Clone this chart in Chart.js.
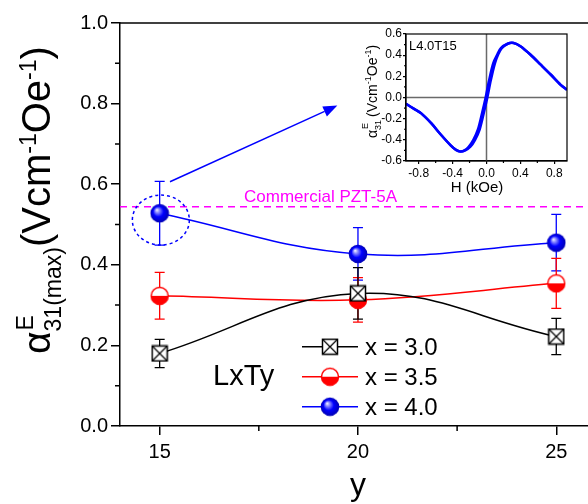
<!DOCTYPE html>
<html><head><meta charset="utf-8">
<script src="https://cdn.jsdelivr.net/npm/chart.js@4.4.1/dist/chart.umd.min.js"></script>
<style>
html,body{margin:0;padding:0;background:#fff;}
#wrap{position:relative;width:588px;height:504px;overflow:hidden;background:#fff;}
#main{position:absolute;left:0;top:0;}
#inset{position:absolute;left:340px;top:20px;}
</style></head><body>
<div id="wrap"><canvas id="main" width="588" height="504"></canvas><canvas id="inset" width="248" height="185"></canvas></div>
<script>
// ---------- data ----------
const yCategories = [15, 20, 25];
const xTickValues = [15, 20, 25];
const yTickValues = [0, 0.2, 0.4, 0.6, 0.8, 1.0];
const alphaX30 = [0.180, 0.329, 0.222];
const errX30   = [0.035, 0.064, 0.045];
const alphaX35 = [0.323, 0.313, 0.354];
const errX35   = [0.058, 0.055, 0.062];
const alphaX40 = [0.528, 0.427, 0.455];
const errX40   = [0.079, 0.065, 0.070];
const seriesLabels = ['x = 3.0', 'x = 3.5', 'x = 4.0'];
const pztValue = 0.544;
const pztLabel = 'Commercial PZT-5A';

// inset (L4.0T15) loop
const insetHUp   = [-0.95,-0.85,-0.77,-0.65,-0.54,-0.42,-0.36,-0.31,-0.25,-0.19,-0.135,-0.08,-0.03,0.01,0.05,0.10,0.14,0.18,0.25,0.32,0.40,0.52,0.64,0.76,0.875,0.95];
const insetAUp   = [-0.06,-0.11,-0.15,-0.245,-0.35,-0.455,-0.495,-0.51,-0.50,-0.465,-0.40,-0.30,-0.14,0.00,0.16,0.325,0.41,0.467,0.508,0.515,0.485,0.404,0.31,0.215,0.12,0.073];
const insetHDown = [0.95,0.875,0.76,0.64,0.52,0.40,0.32,0.25,0.17,0.13,0.08,0.03,-0.01,-0.05,-0.10,-0.155,-0.21,-0.26,-0.31,-0.36,-0.42,-0.54,-0.65,-0.77,-0.85,-0.95];
const insetADown = [0.073,0.12,0.215,0.31,0.404,0.485,0.515,0.508,0.467,0.41,0.325,0.16,0.00,-0.14,-0.30,-0.40,-0.465,-0.50,-0.51,-0.495,-0.455,-0.35,-0.245,-0.15,-0.11,-0.06];
const insetXTicks = [-0.8, -0.4, 0, 0.4, 0.8];
const insetYTicks = [-0.6, -0.4, -0.2, 0, 0.2, 0.4, 0.6];
const insetLabel = 'L4.0T15';

const FF = "'Liberation Sans', Arial, sans-serif";
Chart.defaults.font.family = FF;
Chart.defaults.color = '#000';

// ---------- marker images ----------
function boxX(){ const c=document.createElement('canvas'); c.width=18;c.height=18; const g=c.getContext('2d');
  g.fillStyle='#fff'; g.fillRect(1.5,1.5,15,15); g.strokeStyle='#000'; g.lineWidth=1.5; g.strokeRect(1.5,1.5,15,15);
  g.lineWidth=1.2; g.beginPath(); g.moveTo(2,2); g.lineTo(16,16); g.moveTo(16,2); g.lineTo(2,16); g.stroke(); return c; }
function halfRed(){ const c=document.createElement('canvas'); c.width=20;c.height=20; const g=c.getContext('2d');
  g.fillStyle='#fff'; g.beginPath(); g.arc(10,10,8.5,0,Math.PI*2); g.fill();
  g.fillStyle='#ff0000'; g.beginPath(); g.arc(10,10,8.5,0,Math.PI); g.closePath(); g.fill();
  g.strokeStyle='#ff0000'; g.lineWidth=1.5; g.beginPath(); g.arc(10,10,8.5,0,Math.PI*2); g.stroke(); return c; }
function ball(){ const c=document.createElement('canvas'); c.width=20;c.height=20; const g=c.getContext('2d');
  const gr=g.createRadialGradient(7,6.5,0,10,10,9.5); gr.addColorStop(0,'#ffffff'); gr.addColorStop(0.22,'#9090ff'); gr.addColorStop(0.55,'#0000ff'); gr.addColorStop(1,'#0000b0');
  g.fillStyle=gr; g.beginPath(); g.arc(10,10,9.3,0,Math.PI*2); g.fill(); return c; }
const imgBox = boxX(), imgRed = halfRed(), imgBall = ball();

function pts(xs, ys){ return xs.map((v,i)=>({x:v, y:ys[i]})); }

function drawRich(ctx, x0, y0, parts){
  ctx.save(); ctx.translate(x0, y0); ctx.rotate(-Math.PI/2); ctx.textBaseline='alphabetic'; ctx.textAlign='left';
  let u = 0, pending = 0;
  parts.forEach(p=>{
    ctx.font = p.size + 'px ' + FF;
    const w = ctx.measureText(p.t).width;
    ctx.fillText(p.t, u + (p.dx||0), p.dv||0);
    if (p.noAdvance) { pending = w + (p.dx||0); }
    else { u += Math.max(w, pending) + (p.gap||0); pending = 0; }
  });
  ctx.restore();
}

const errorSets = [
  {vals: alphaX40, err: errX40, color: '#0000ff'},
  {vals: alphaX35, err: errX35, color: '#ff0000'},
  {vals: alphaX30, err: errX30, color: '#000000'}
];

const mainDecor = {
  id: 'mainDecor',
  beforeDatasetsDraw(chart){
    const {ctx, scales:{x, y}} = chart;
    ctx.save(); ctx.lineWidth = 1.3;
    errorSets.forEach(es=>{
      ctx.strokeStyle = es.color;
      es.vals.forEach((v,i)=>{
        const px = x.getPixelForValue(yCategories[i]);
        const t = y.getPixelForValue(v + es.err[i]), b = y.getPixelForValue(v - es.err[i]);
        ctx.beginPath(); ctx.moveTo(px,t); ctx.lineTo(px,b);
        ctx.moveTo(px-5,t); ctx.lineTo(px+5,t); ctx.moveTo(px-5,b); ctx.lineTo(px+5,b); ctx.stroke();
      });
    });
    ctx.restore();
  },
  afterDraw(chart){
    const {ctx, chartArea:a, scales:{x, y}} = chart;
    ctx.save();
    // top frame line
    ctx.strokeStyle='#000'; ctx.lineWidth=1.5;
    ctx.beginPath(); ctx.moveTo(a.left, a.top); ctx.lineTo(588, a.top); ctx.stroke();
    // minor ticks
    ctx.beginPath();
    [0.1,0.3,0.5,0.7,0.9].forEach(v=>{ const py=y.getPixelForValue(v); ctx.moveTo(a.left, py); ctx.lineTo(a.left-5, py); });
    [17.5,22.5].forEach(v=>{ const px=x.getPixelForValue(v); ctx.moveTo(px, a.bottom); ctx.lineTo(px, a.bottom+5); });
    ctx.stroke();
    // PZT label
    ctx.fillStyle='#ff00ff'; ctx.font='17px '+FF; ctx.textBaseline='alphabetic'; ctx.textAlign='left';
    ctx.fillText(pztLabel, 244, 201.5);
    // dotted ellipse around x=4.0, y=15 point
    const cx = x.getPixelForValue(15.03), cy = y.getPixelForValue(0.511);
    ctx.strokeStyle='#0000ff'; ctx.lineWidth=1.5; ctx.setLineDash([3,3]);
    ctx.beginPath(); ctx.ellipse(cx, cy, 28.5, 25, 0, 0, Math.PI*2); ctx.stroke(); ctx.setLineDash([]);
    // arrow to inset
    const x1=x.getPixelForValue(15.26), y1=y.getPixelForValue(0.606), x2=x.getPixelForValue(19.48), y2=y.getPixelForValue(0.795);
    const ang=Math.atan2(y2-y1,x2-x1), L=14, H=5.5;
    const bx=x2-L*Math.cos(ang), by=y2-L*Math.sin(ang);
    ctx.lineWidth=1.5; ctx.beginPath(); ctx.moveTo(x1,y1); ctx.lineTo(bx,by); ctx.stroke();
    ctx.fillStyle='#0000ff'; ctx.beginPath(); ctx.moveTo(x2,y2);
    ctx.lineTo(bx - H*Math.sin(ang), by + H*Math.cos(ang)); ctx.lineTo(bx + H*Math.sin(ang), by - H*Math.cos(ang)); ctx.closePath(); ctx.fill();
    // legend
    const rows = [{img:imgBox,c:'#000',y:346.7},{img:imgRed,c:'#ff0000',y:376.7},{img:imgBall,c:'#0000ff',y:406.7}];
    rows.forEach((r,i)=>{
      ctx.strokeStyle=r.c; ctx.lineWidth=1.5; ctx.beginPath(); ctx.moveTo(302,r.y); ctx.lineTo(358,r.y); ctx.stroke();
      ctx.drawImage(r.img, 330 - r.img.width/2, r.y - r.img.height/2);
      ctx.fillStyle='#000'; ctx.font='24px '+FF; ctx.fillText(seriesLabels[i], 365, r.y+8.5);
    });
    ctx.font='29px '+FF; ctx.fillText('LxTy', 213, 385);
    // x title
    ctx.font='32px '+FF; ctx.textAlign='center'; ctx.fillText('y', 358, 495);
    ctx.restore();
    // y title
    ctx.fillStyle='#000';
    drawRich(ctx, 50, 354, [
      {t:'α', size:39},
      {t:'E', size:23, dv:-17, noAdvance:true, dx:1},
      {t:'31(max)', size:23, dv:11},
      {t:'(Vcm', size:40},
      {t:'-1', size:23, dv:-14},
      {t:'Oe', size:40},
      {t:'-1', size:23, dv:-14},
      {t:')', size:40}
    ]);
  }
};

new Chart(document.getElementById('main'), {
  type: 'line',
  data: { datasets: [
    {label: seriesLabels[0], data: pts(yCategories, alphaX30), borderColor:'#000', borderWidth:1.5, tension:0.4, pointStyle: imgBox, pointRadius:8},
    {label: seriesLabels[1], data: pts(yCategories, alphaX35), borderColor:'#ff0000', borderWidth:1.5, tension:0.4, pointStyle: imgRed, pointRadius:9},
    {label: seriesLabels[2], data: pts(yCategories, alphaX40), borderColor:'#0000ff', borderWidth:1.5, tension:0.4, pointStyle: imgBall, pointRadius:9},
    {label: pztLabel, data: [{x:14, y:pztValue},{x:25.8, y:pztValue}], borderColor:'#ff00ff', borderWidth:1.5, borderDash:[7,5], pointRadius:0, tension:0}
  ]},
  options: {
    responsive:false, animation:false, events:[], devicePixelRatio:1,
    layout:{autoPadding:false, padding:{top:23, right:0, left:0, bottom:0}},
    plugins:{legend:{display:false}, tooltip:{enabled:false}},
    scales:{
      x:{type:'linear', min:14, max:25.8,
        afterBuildTicks:s=>{ s.ticks = xTickValues.map(v=>({value:v})); },
        afterFit:s=>{ s.height = 78; },
        grid:{display:true, drawOnChartArea:false, drawTicks:true, tickLength:9, color:'#000', lineWidth:1.5},
        border:{display:true, color:'#000', width:1.5},
        ticks:{font:{size:20}, color:'#000', padding:5, maxRotation:0, callback:v=>String(v)}
      },
      y:{type:'linear', min:0, max:1.0,
        afterBuildTicks:s=>{ s.ticks = yTickValues.map(v=>({value:v})); },
        afterFit:s=>{ s.width = 120; },
        grid:{display:true, drawOnChartArea:false, drawTicks:true, tickLength:9, color:'#000', lineWidth:1.5},
        border:{display:true, color:'#000', width:1.5},
        ticks:{font:{size:20}, color:'#000', padding:3, callback:v=>Number(v).toFixed(1)}
      }
    }
  },
  plugins:[mainDecor]
});

// ---------- inset ----------
const insetDecor = {
  id:'insetDecor',
  beforeDatasetsDraw(chart){
    const {ctx, chartArea:a, scales:{x,y}} = chart;
    ctx.save(); ctx.strokeStyle='#6a6a6a'; ctx.lineWidth=1.5;
    const zx=x.getPixelForValue(0), zy=y.getPixelForValue(0);
    ctx.beginPath(); ctx.moveTo(zx,a.top); ctx.lineTo(zx,a.bottom); ctx.moveTo(a.left,zy); ctx.lineTo(a.right,zy); ctx.stroke();
    ctx.restore();
  },
  afterDraw(chart){
    const {ctx, chartArea:a, scales:{x,y}} = chart;
    ctx.save(); ctx.strokeStyle='#000'; ctx.lineWidth=1.2;
    ctx.strokeRect(a.left, a.top, a.right-a.left, a.bottom-a.top);
    ctx.beginPath();
    [-0.5,-0.3,-0.1,0.1,0.3,0.5].forEach(v=>{ const py=y.getPixelForValue(v); ctx.moveTo(a.left,py); ctx.lineTo(a.left-2,py); });
    [-0.6,-0.2,0.2,0.6].forEach(v=>{ const px=x.getPixelForValue(v); ctx.moveTo(px,a.bottom); ctx.lineTo(px,a.bottom+2); });
    ctx.stroke();
    ctx.fillStyle='#000'; ctx.font='13px '+FF; ctx.textAlign='left'; ctx.textBaseline='alphabetic';
    ctx.fillText(insetLabel, a.left+3, a.top+16);
    ctx.font='15px '+FF; ctx.textAlign='center'; ctx.fillText('H (kOe)', 137, 172);
    ctx.restore();
    ctx.fillStyle='#000';
    drawRich(ctx, 37, 118, [
      {t:'α', size:14},
      {t:'E', size:9, dv:-9, noAdvance:true, dx:1},
      {t:'31', size:9, dv:4, gap:3},
      {t:'(Vcm', size:14},
      {t:'-1', size:9, dv:-6},
      {t:'Oe', size:14},
      {t:'-1', size:9, dv:-6},
      {t:')', size:14}
    ]);
  }
};

new Chart(document.getElementById('inset'), {
  type:'line',
  data:{datasets:[
    {data: pts(insetHUp, insetAUp), borderColor:'#0000ff', borderWidth:2.5, pointRadius:0, tension:0.3},
    {data: pts(insetHDown, insetADown), borderColor:'#0000ff', borderWidth:2.5, pointRadius:0, tension:0.3}
  ]},
  options:{
    responsive:false, animation:false, events:[], devicePixelRatio:1,
    layout:{autoPadding:false, padding:{top:14, right:21, left:0, bottom:0}},
    plugins:{legend:{display:false}, tooltip:{enabled:false}},
    scales:{
      x:{type:'linear', min:-0.95, max:0.95,
        afterBuildTicks:s=>{ s.ticks = insetXTicks.map(v=>({value:v})); },
        afterFit:s=>{ s.height = 44; },
        grid:{display:true, drawOnChartArea:false, drawTicks:true, tickLength:3, color:'#000', lineWidth:1.2},
        border:{display:true, color:'#000', width:1.2},
        ticks:{font:{size:12}, color:'#000', padding:2, maxRotation:0, callback:v=>Number(v).toFixed(1)}
      },
      y:{type:'linear', min:-0.6, max:0.6,
        afterBuildTicks:s=>{ s.ticks = insetYTicks.map(v=>({value:v})); },
        afterFit:s=>{ s.width = 66; },
        grid:{display:true, drawOnChartArea:false, drawTicks:true, tickLength:3, color:'#000', lineWidth:1.2},
        border:{display:true, color:'#000', width:1.2},
        ticks:{font:{size:12}, color:'#000', padding:1, callback:v=>Number(v).toFixed(1)}
      }
    }
  },
  plugins:[insetDecor]
});
</script>
</body></html>
